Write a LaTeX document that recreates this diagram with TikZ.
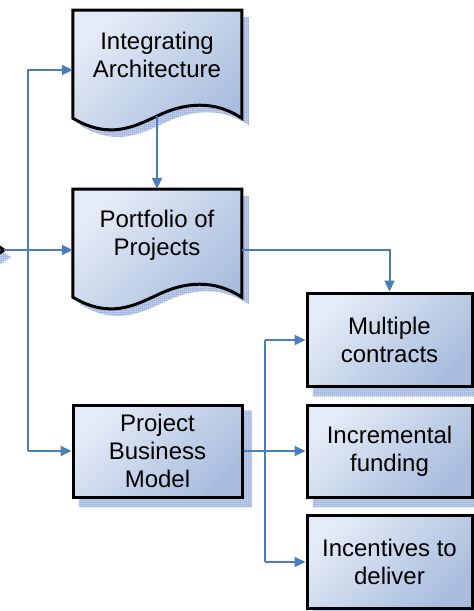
\documentclass[tikz,border=0pt]{standalone}
\usepackage{fontspec}
\setmainfont{Liberation Sans}
\usetikzlibrary{arrows.meta,calc,patterns}

\definecolor{boxlight}{RGB}{228,235,246}
\definecolor{boxdark}{RGB}{168,189,222}
\definecolor{connblue}{RGB}{74,126,187}
\definecolor{shadowtint}{RGB}{196,210,236}
\definecolor{shadowblue}{RGB}{120,150,208}

% fine checkered dots used for the drop shadows
\pgfdeclarepatternformonly{finecheck}{\pgfpointorigin}{\pgfpoint{2pt}{2pt}}{\pgfpoint{2pt}{2pt}}{%
  \pgfpathrectangle{\pgfpointorigin}{\pgfpoint{1pt}{1pt}}%
  \pgfpathrectangle{\pgfpoint{1pt}{1pt}}{\pgfpoint{1pt}{1pt}}%
  \pgfusepath{fill}}

\pgfdeclarelayer{bg}
\pgfsetlayers{bg,main}

\tikzset{
  blockfill/.style={draw=black, line width=3pt, line join=miter,
    top color=boxlight, bottom color=boxdark, shading angle=45},
  block/.style={blockfill, inner sep=0pt, align=center,
    font=\fontsize{24}{28}\selectfont, minimum width=165pt, minimum height=93pt},
  docframe/.style={inner sep=0pt, minimum width=169pt, minimum height=108pt},
  doctext/.style={inner sep=0pt, align=center, font=\fontsize{24}{28}\selectfont},
  shadowfill/.style={fill=shadowtint, postaction={pattern=finecheck, pattern color=shadowblue}},
  % outline of a document shape, drawn from its lower left corner
  docpath/.style={insert path={(0,-108) -- (169,-108) -- (169,0)
    .. controls (142,-18) and (112,-16) .. (84,-2)
    .. controls (62,8) and (37,22) .. (0,0) -- cycle}},
  flow/.style={draw=connblue, line width=2pt, -{Triangle[length=11pt,width=10pt]}},
  wire/.style={draw=connblue, line width=2pt},
}

\begin{document}
\begin{tikzpicture}[x=1pt, y=-1pt]
\useasboundingbox (0,0) rectangle (474,611);
\clip (0,0) rectangle (474,611);

% frames of the two document shapes
\node[docframe] (ia) at (157.5,64) {};
\node[docframe] (pp) at (157.5,243) {};

% rectangular blocks
\node[block, minimum width=169pt, minimum height=92pt] (pbm) at (157.5,451) {Project\\Business\\Model};
\node[block] (mc)  at (389.5,339.5) {Multiple\\contracts};
\node[block, minimum height=92pt] (iff) at (389.5,451) {Incremental\\funding};
\node[block] (ic)  at (389.5,561.5) {Incentives to\\deliver};

% tip of the decision shape at the left
\coordinate (dec) at (4,250);

% drop shadows
\begin{pgfonlayer}{bg}
  \fill[white] (0,0) rectangle (474,611);
  \foreach \b in {pbm,mc,iff,ic}
    \path[shadowfill] ([shift={(7,7)}]\b.north west) rectangle ([shift={(8.5,8.5)}]\b.south east);
  \foreach \d in {ia,pp}
    \path[shadowfill, shift={([shift={(7,7)}]\d.south west)}, docpath];
  \path[shadowfill] ([shift={(7,7)}]dec) -- +(-60,-40) -- +(-120,0) -- +(-60,40) -- cycle;
\end{pgfonlayer}

% document shapes
\path[blockfill, shift={(ia.south west)}, docpath];
\path[blockfill, shift={(pp.south west)}, docpath];
\node[doctext] (ia-t) at (157,55) {Integrating\\Architecture};
\node[doctext] (pp-t) at (157,235) {Portfolio of\\Projects};

% decision shape
\path[blockfill] (dec) -- +(-60,-40) -- +(-120,0) -- +(-60,40) -- cycle;

% connectors
\coordinate (lbus-top) at (28,70);
\coordinate (lbus-bot) at (28,451);
\coordinate (ia-out) at (157,116);
\coordinate (pp-out) at (242,250);
\coordinate (rbus-top) at (265,340);
\coordinate (rbus-mid) at (265,451);
\coordinate (rbus-bot) at (265,562);

\draw[flow] (dec) -- (dec -| pp.west);
\draw[flow] (lbus-bot) -- (lbus-top) -- (lbus-top -| ia.west);
\draw[flow] (lbus-bot) -- (pbm.west);
\draw[flow] (ia-out) -- (ia-out |- pp.north);
\draw[flow] (pp-out) -- (pp-out -| mc.north) -- (mc.north);
\draw[wire] (pbm.east) -- (rbus-mid);
\draw[wire] (rbus-top) -- (rbus-bot);
\draw[flow] (rbus-top) -- (rbus-top -| mc.west);
\draw[flow] (rbus-mid) -- (iff.west);
\draw[flow] (rbus-bot) -- (rbus-bot -| ic.west);
\end{tikzpicture}
\end{document}
